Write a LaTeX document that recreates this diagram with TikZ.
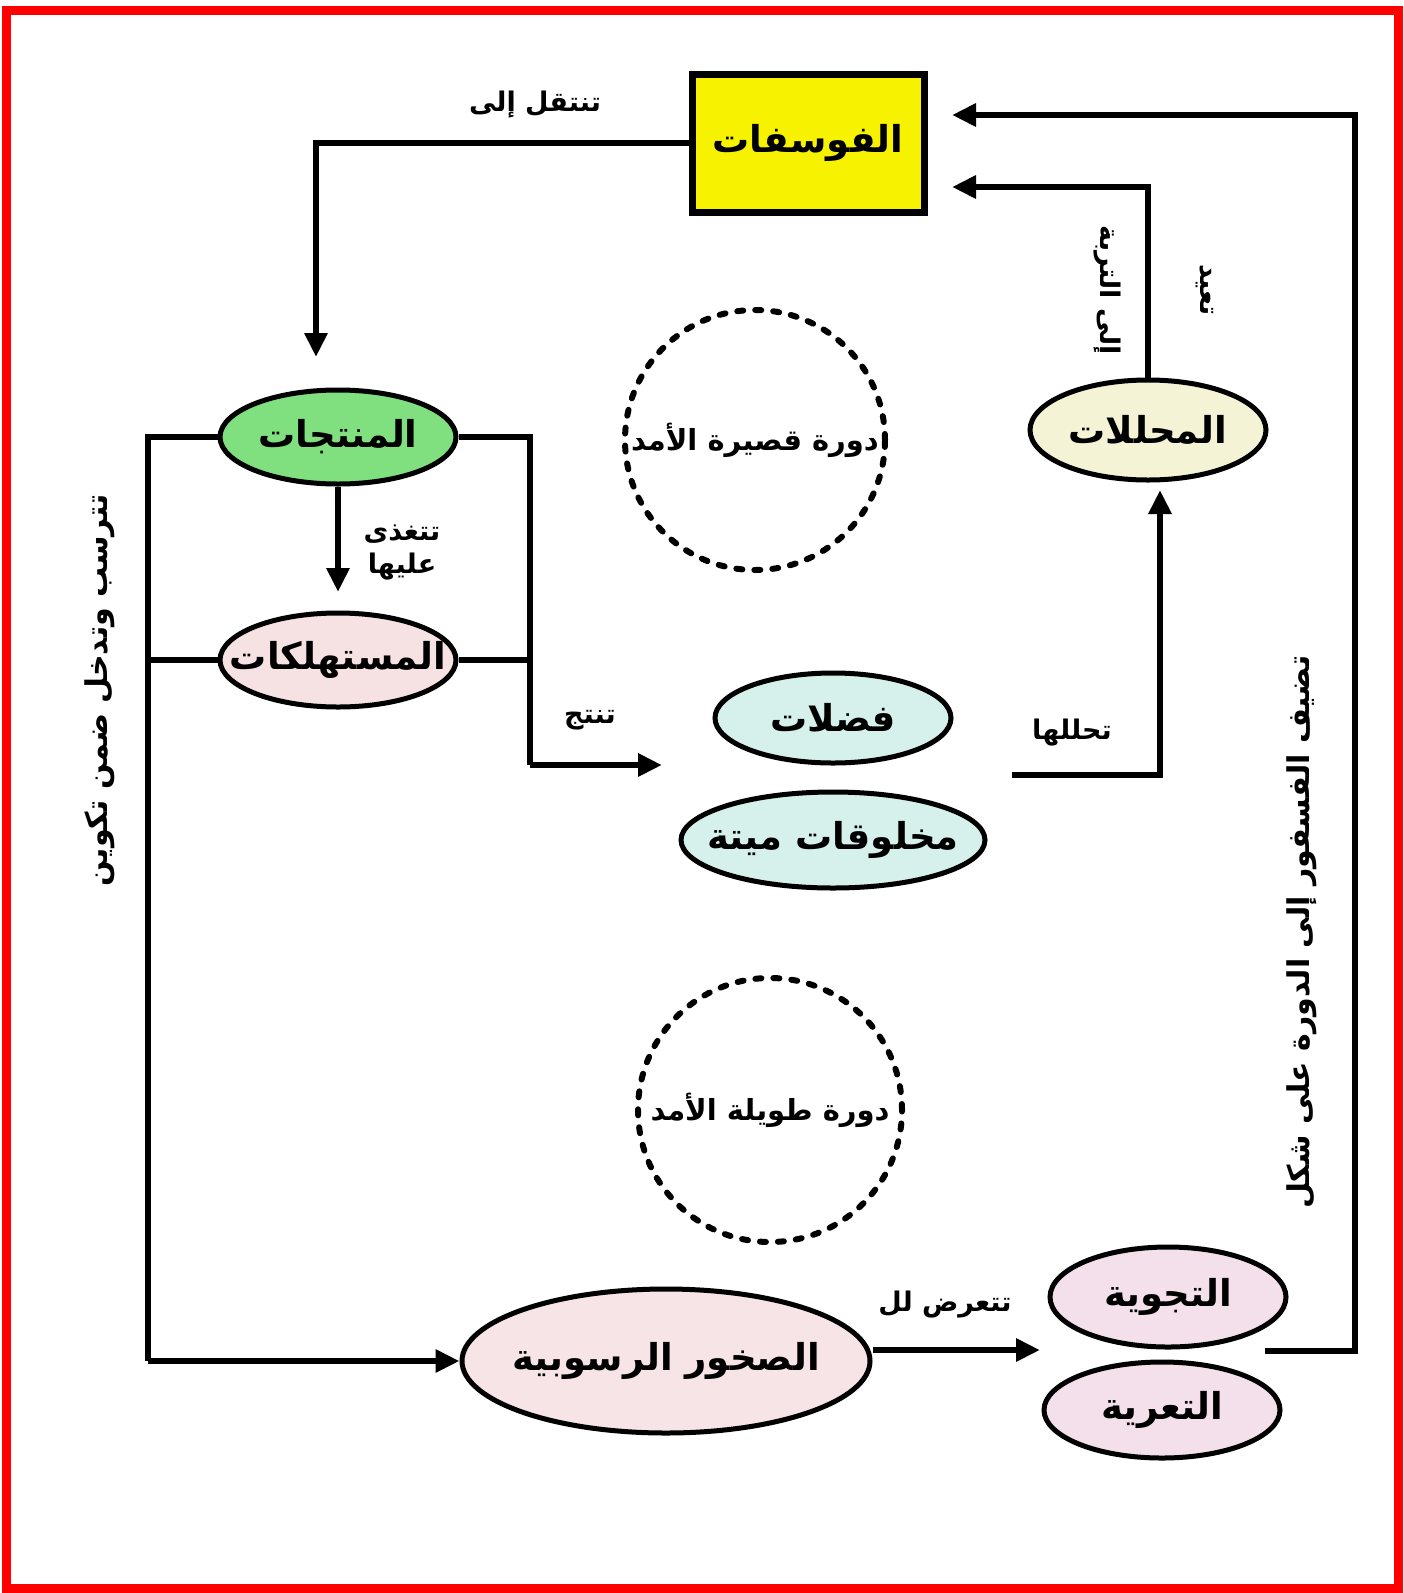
\documentclass[tikz,border=0pt]{standalone}
\usepackage{fontspec}
\usetikzlibrary{shapes.geometric,arrows.meta,calc}
\TeXXeTstate=1
\newfontfamily\ar[Script=Arabic]{DejaVu Sans}
\definecolor{fosY}{HTML}{F7F200}
\definecolor{prodG}{HTML}{80E07F}
\definecolor{consP}{HTML}{F6E2E2}
\definecolor{wasteC}{HTML}{D6F1EB}
\definecolor{decY}{HTML}{F5F3D6}
\definecolor{rockP}{HTML}{F6E4E6}
\definecolor{weathP}{HTML}{F3E0EA}
\newcommand{\zb}[1]{\makebox[0pt]{\beginR #1\endR}}
\tikzset{
  x=1pt, y=-1pt,
  conn/.style={line width=6pt, line join=miter},
  arr/.style={conn, -{Triangle[length=24pt,width=22pt]}},
  oval/.style={ellipse, draw, line width=5pt, inner sep=0pt, font=\ar\bfseries\fontsize{37}{40}\selectfont},
  lbl/.style={font=\ar\bfseries\fontsize{27}{33}\selectfont, inner sep=0pt, align=center},
  vlbl/.style={font=\ar\bfseries\fontsize{30}{34}\selectfont, inner sep=0pt},
  cyc/.style={circle, draw, line width=6pt, dash pattern=on 6pt off 12pt, line cap=round, inner sep=0pt, font=\ar\bfseries\fontsize{29}{33}\selectfont}
}
\begin{document}
\begin{tikzpicture}
\useasboundingbox (0,0) rectangle (1404,1593);
\fill[white] (0,0) rectangle (1404,1593);
\draw[red, line width=9pt] (6,10) rectangle (1398,1588);

% nodes
\node[draw, fill=fosY, line width=7pt, minimum width=232pt, minimum height=138pt, inner sep=0pt,
      font=\ar\bfseries\fontsize{37}{40}\selectfont] (fos) at (808,143) {\zb{الفوسفات}};
\node[oval, fill=prodG, minimum width=236pt, minimum height=94pt] (prod) at (338,437) {\zb{المنتجات}};
\node[oval, fill=consP, minimum width=236pt, minimum height=94pt] (cons) at (338,660) {\zb{المستهلكات}};
\node[oval, fill=wasteC, minimum width=236pt, minimum height=90pt] (waste) at (833,718) {\zb{فضلات}};
\node[oval, fill=wasteC, minimum width=304pt, minimum height=96pt] (dead) at (833,840) {\zb{مخلوقات ميتة}};
\node[oval, fill=decY, minimum width=236pt, minimum height=100pt] (dec) at (1148,430) {\zb{المحللات}};
\node[oval, fill=rockP, minimum width=408pt, minimum height=144pt] (rock) at (666,1361) {\zb{الصخور الرسوبية}};
\node[oval, fill=weathP, minimum width=236pt, minimum height=100pt] (weath) at (1168,1297) {\zb{التجوية}};
\node[oval, fill=weathP, minimum width=236pt, minimum height=96pt] (eros) at (1162,1410) {\zb{التعرية}};

\node[cyc, minimum size=260pt] (short) at (755,440) {\zb{دورة قصيرة الأمد}};
\node[cyc, minimum size=264pt] (long) at (770,1110) {\zb{دورة طويلة الأمد}};

% labels
\node[lbl] (l1) at (535,105) {\beginR تنتقل إلى\endR};
\node[lbl] (l2) at (402,552) {\beginR تتغذى\endR\\\beginR عليها\endR};
\node[lbl] (l3) at (590,720) {\beginR تنتج\endR};
\node[lbl] (l4) at (1072,733) {\beginR تحللها\endR};
\node[lbl, rotate=-90] (l5) at (1205,290) {\beginR تعيد\endR};
\node[lbl, rotate=-90] (l6) at (1107,290) {\beginR إلى التربة\endR};
\node[lbl] (l7) at (945,1305) {\beginR تتعرض لل\endR};
\node[vlbl, rotate=90] (l8) at (100,690) {\beginR تترسب وتدخل ضمن تكوين\endR};
\node[vlbl, rotate=90] (l9) at (1302,932) {\beginR تضيف الفسفور إلى الدورة على شكل\endR};

% coordinates
\coordinate (pArr) at (316,357);
\coordinate (lTop) at (148,437);
\coordinate (lMid) at (148,660);
\coordinate (lBot) at (148,1361);
\coordinate (rTop) at (530,437);
\coordinate (rMid) at (530,660);
\coordinate (rBot) at (530,765);
\coordinate (wIn) at (662,765);
\coordinate (dOut) at (1012,775);
\coordinate (dCorner) at (1160,775);
\coordinate (dIn) at (1160,490);
\coordinate (uTop) at (1155,187);
\coordinate (fIn1) at (952,187);
\coordinate (bigStart) at (1265,1351);
\coordinate (bigCorner) at (1355,1351);
\coordinate (bigTop) at (1355,115);
\coordinate (fIn2) at (952,115);
\coordinate (wthIn) at (1040,1350);
\coordinate (cArr) at (338,592);

% connectors
\draw[arr] (fos.west) -| (pArr);
\draw[arr] (prod.south) -- (cArr);
\draw[conn] (prod.west) -- (lTop) -- (lBot);
\draw[arr] (lBot) -- (rock.west);
\draw[conn] (cons.west) -- (lMid);
\draw[conn] (prod.east) -- (rTop) -- (rBot);
\draw[arr] (rBot) -- (wIn);
\draw[conn] (cons.east) -- (rMid);
\draw[arr] (dOut) -- (dCorner) -- (dIn);
\draw[arr] (dec.north) -- (dec.north |- uTop) -- (fIn1);
\draw[arr] (bigStart) -- (bigCorner) -- (bigTop) -- (fIn2);
\draw[arr] (rock.east |- wthIn) -- (wthIn);
\end{tikzpicture}
\end{document}
